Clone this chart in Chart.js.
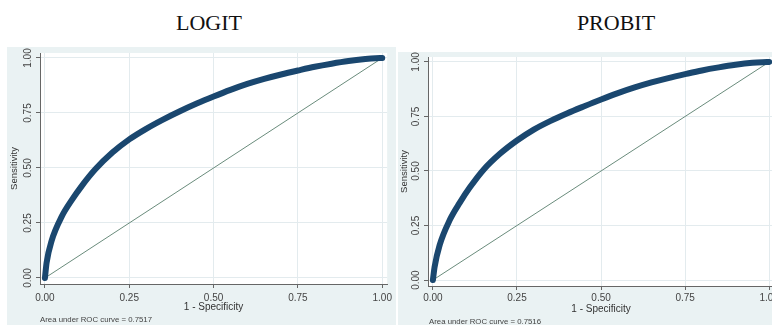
<!DOCTYPE html>
<html lang="en">
<head>
    <meta charset="UTF-8">
    <title>ROC curves - Logit vs Probit</title>
    <style>
        body { margin: 0; width: 772px; height: 325px; overflow: hidden; background: #fff; position: relative; }
        .title { position: absolute; top: 12px; width: 200px; text-align: center; font: 22px/22px "Liberation Serif", "Times New Roman", serif; color: #111; }
        .panel { position: absolute; background: #eaf2f3; overflow: hidden; }
        .panel canvas { position: absolute; left: 0; top: 0; }
        .auc { position: absolute; font: 7.8px/10px "Liberation Sans", Arial, sans-serif; color: #444; white-space: nowrap; }
    </style>
</head>
<body>
    <div class="title" style="left:109px">LOGIT</div>
    <div class="title" style="left:516px">PROBIT</div>

    <div class="panel" style="left:7px; top:47px; width:389px; height:278px;">
        <canvas id="logitChart" width="389" height="278"></canvas>
    </div>
    <div class="panel" style="left:398px; top:52px; width:374px; height:273px;">
        <canvas id="probitChart" width="383" height="273"></canvas>
    </div>

    <div class="auc" style="left:40px; top:315px;">Area under ROC curve = 0.7517</div>
    <div class="auc" style="left:429px; top:317px;">Area under ROC curve = 0.7516</div>

    <script src="https://cdn.jsdelivr.net/npm/chart.js"></script>
    <script>
        // 1 - specificity (false positive rate)
        const fpr = [0, 0.005, 0.02, 0.05, 0.08, 0.11, 0.15, 0.2, 0.25, 0.3, 0.35, 0.4, 0.45,
                     0.5, 0.55, 0.6, 0.65, 0.7, 0.75, 0.8, 0.85, 0.9, 0.95, 0.98, 1];
        // sensitivity for each model
        const logitTpr = [0, 0.07, 0.17, 0.28, 0.355, 0.42, 0.495, 0.57, 0.63, 0.678, 0.72, 0.758, 0.793,
                          0.825, 0.855, 0.882, 0.905, 0.925, 0.943, 0.96, 0.974, 0.986, 0.995, 0.999, 1];
        const probitTpr = [0, 0.06, 0.16, 0.275, 0.355, 0.425, 0.505, 0.58, 0.64, 0.69, 0.73, 0.765, 0.797,
                           0.828, 0.857, 0.883, 0.906, 0.926, 0.944, 0.961, 0.975, 0.987, 0.996, 0.999, 1];
        // chance line
        const refX = [0, 1];
        const refY = [0, 1];
        const tickValues = [0, 0.25, 0.5, 0.75, 1];

        const FONT = '"Liberation Sans", Arial, sans-serif';

        // white plot region on the grey graph region
        const plotBg = {
            id: 'plotBg',
            beforeDraw(chart) {
                const { ctx, chartArea: a } = chart;
                ctx.save();
                ctx.fillStyle = '#ffffff';
                ctx.fillRect(a.left, a.top, a.right - a.left, a.bottom - a.top);
                ctx.restore();
            }
        };

        // vertical y tick labels, like Stata
        const yLabels = {
            id: 'yLabels',
            afterDraw(chart, args, opts) {
                const { ctx } = chart;
                const y = chart.scales.y;
                ctx.save();
                ctx.font = '10px ' + FONT;
                ctx.fillStyle = '#444';
                ctx.textAlign = 'center';
                ctx.textBaseline = 'middle';
                tickValues.forEach(v => {
                    ctx.save();
                    ctx.translate(opts.x, y.getPixelForValue(v));
                    ctx.rotate(-Math.PI / 2);
                    ctx.fillText(v.toFixed(2), 0, 0);
                    ctx.restore();
                });
                ctx.restore();
            }
        };

        function toPoints(xs, ys) {
            return xs.map((x, i) => ({ x: x, y: ys[i] }));
        }

        function rocChart(id, tpr, cfg) {
            const ctx = document.getElementById(id).getContext('2d');
            return new Chart(ctx, {
                type: 'line',
                data: {
                    datasets: [{
                        label: 'ROC',
                        data: toPoints(fpr, tpr),
                        borderColor: '#1a476f',
                        borderWidth: 6,
                        pointRadius: 0,
                        tension: 0.4,
                        cubicInterpolationMode: 'monotone',
                        borderCapStyle: 'round',
                        borderJoinStyle: 'round',
                        fill: false,
                        clip: false
                    }, {
                        label: 'Reference',
                        data: toPoints(refX, refY),
                        borderColor: '#6a8c7c',
                        borderWidth: 1,
                        pointRadius: 0,
                        fill: false
                    }]
                },
                options: {
                    responsive: false,
                    animation: false,
                    layout: { padding: { top: cfg.padTop, right: cfg.padRight, left: 0, bottom: 0 } },
                    plugins: {
                        legend: { display: false },
                        tooltip: { enabled: false },
                        yLabels: { x: cfg.yLabelX }
                    },
                    scales: {
                        x: {
                            type: 'linear',
                            min: -0.0146,
                            max: 1.0146,
                            afterBuildTicks: axis => { axis.ticks = tickValues.map(v => ({ value: v })); },
                            afterFit: axis => { axis.height = cfg.xHeight; },
                            ticks: {
                                callback: v => v.toFixed(2),
                                font: { size: 10, family: FONT },
                                color: '#444',
                                padding: cfg.xTickPad,
                                maxRotation: 0
                            },
                            grid: { color: '#e3ebee', tickColor: '#666', tickLength: 4 },
                            border: { color: '#666', width: 1 },
                            title: {
                                display: true,
                                text: '1 - Specificity',
                                font: { size: 10, family: FONT },
                                color: '#333',
                                padding: { top: 0, bottom: cfg.xTitlePad }
                            }
                        },
                        y: {
                            type: 'linear',
                            min: -0.0273,
                            max: 1.0227,
                            afterBuildTicks: axis => { axis.ticks = tickValues.map(v => ({ value: v })); },
                            afterFit: axis => { axis.width = cfg.yWidth; },
                            ticks: { display: false },
                            grid: { color: '#e3ebee', tickColor: '#666', tickLength: 4 },
                            border: { color: '#666', width: 1 },
                            title: {
                                display: true,
                                text: 'Sensitivity',
                                font: { size: 9.5, family: FONT },
                                color: '#333',
                                padding: { top: cfg.yTitlePad, bottom: 0 }
                            }
                        }
                    }
                },
                plugins: [plotBg, yLabels]
            });
        }

        rocChart('logitChart', logitTpr, {
            padTop: 6, padRight: 3, yWidth: 33, xHeight: 41,
            yLabelX: 21, yTitlePad: 2, xTickPad: 4, xTitlePad: 12
        });
        rocChart('probitChart', probitTpr, {
            padTop: 5, padRight: 4, yWidth: 30, xHeight: 39,
            yLabelX: 18, yTitlePad: 1, xTickPad: 2, xTitlePad: 10
        });
    </script>
</body>
</html>
